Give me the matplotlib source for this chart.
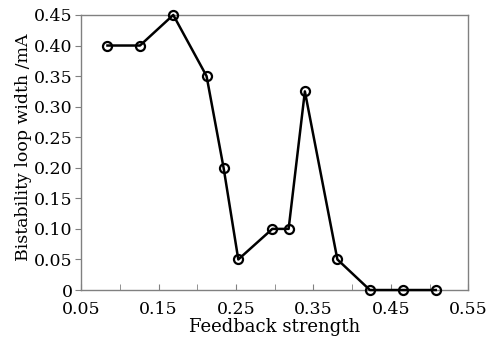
import matplotlib
matplotlib.use("Agg")
import matplotlib.pyplot as plt
from matplotlib.ticker import FixedLocator, FuncFormatter

feedback = [0.084, 0.126, 0.169, 0.212, 0.234, 0.253, 0.297, 0.318, 0.339, 0.381, 0.423, 0.466, 0.508]
loop_width = [0.40, 0.40, 0.45, 0.35, 0.20, 0.05, 0.10, 0.10, 0.325, 0.05, 0.0, 0.0, 0.0]
xticks = [0.05, 0.15, 0.25, 0.35, 0.45, 0.55]
xminor = [0.10, 0.20, 0.30, 0.40, 0.50]
yticks = [0, 0.05, 0.10, 0.15, 0.20, 0.25, 0.30, 0.35, 0.40, 0.45]

plt.rcParams['font.family'] = ['DejaVu Serif']
fig = plt.figure(figsize=(5.04, 3.40), dpi=100)
ax = fig.add_axes([0.161, 0.147, 0.768, 0.809])

ax.plot(feedback, loop_width, color='black', lw=1.8, marker='o', ms=6.5,
        mfc='none', mec='black', mew=1.6, clip_on=False, zorder=3)

ax.set_xlim(0.05, 0.55)
ax.set_ylim(0, 0.45)
ax.xaxis.set_major_locator(FixedLocator(xticks))
ax.xaxis.set_minor_locator(FixedLocator(xminor))
ax.yaxis.set_major_locator(FixedLocator(yticks))
ax.xaxis.set_major_formatter(FuncFormatter(lambda v, p: f"{v:.2f}"))
ax.yaxis.set_major_formatter(FuncFormatter(lambda v, p: "0" if abs(v) < 1e-9 else f"{v:.2f}"))

for s in ax.spines.values():
    s.set_color('#808080')
    s.set_linewidth(1.0)

ax.tick_params(axis='x', which='both', direction='in', length=4, color='#808080',
               labelsize=12.5, pad=8, top=False)
ax.tick_params(axis='y', which='both', direction='out', length=4, color='#808080',
               labelsize=12.5, pad=2, right=False)

ax.set_xlabel('Feedback strength', fontsize=13, labelpad=0)
ax.set_ylabel('Bistability loop width /mA', fontsize=12.5)
ax.yaxis.set_label_coords(-0.127, 0.52)

fig.savefig('out.png', dpi=100)
